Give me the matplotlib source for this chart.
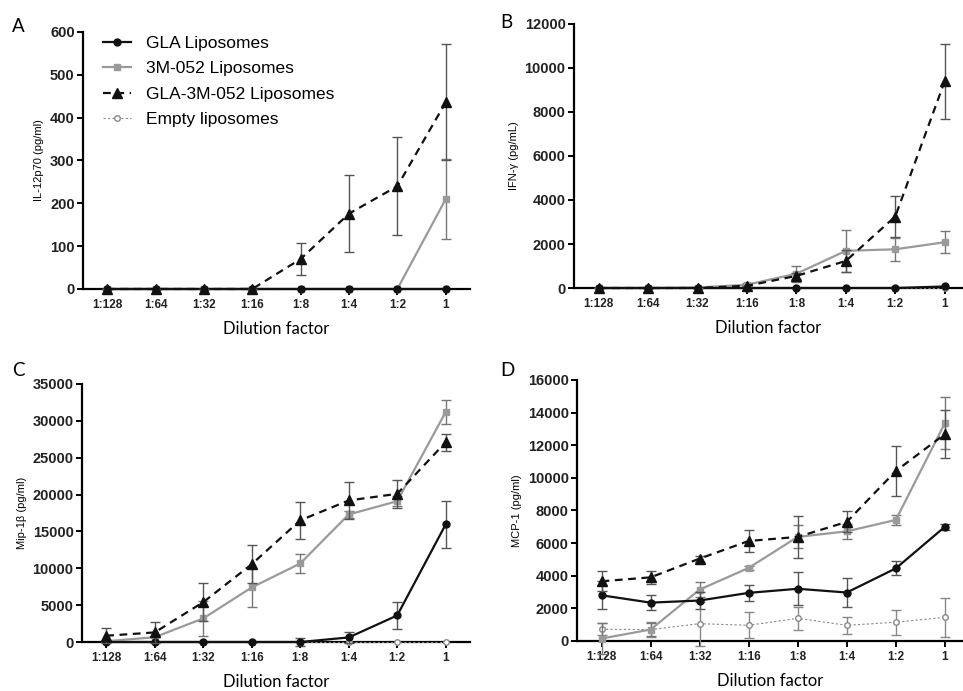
import matplotlib
matplotlib.use("Agg")
from matplotlib import pyplot as plt
from matplotlib.lines import Line2D
import numpy as np

# Dilution steps (x axis)
dilutions = ["1:128", "1:64", "1:32", "1:16", "1:8", "1:4", "1:2", "1"]
series_names = ["GLA Liposomes", "3M-052 Liposomes", "GLA-3M-052 Liposomes", "Empty liposomes"]

# Panel A: IL-12p70 (pg/ml)
il12_gla = [0, 0, 0, 0, 0, 0, 0, 0]
il12_3m = [0, 0, 0, 0, 0, 0, 0, 210]
il12_3m_err = [0, 0, 0, 0, 0, 0, 0, 93]
il12_combo = [0, 0, 0, 0, 70, 176, 240, 436]
il12_combo_err = [0, 0, 0, 0, 37, 90, 115, 136]
il12_empty = [0, 0, 0, 0, 0, 0, 0, 0]

# Panel B: IFN-gamma (pg/mL)
ifn_gla = [0, 0, 0, 0, 0, 0, 0, 70]
ifn_3m = [0, 0, 20, 150, 650, 1690, 1760, 2080]
ifn_3m_err = [0, 0, 0, 60, 370, 950, 530, 500]
ifn_combo = [0, 0, 0, 100, 550, 1230, 3250, 9400]
ifn_combo_err = [0, 0, 0, 0, 150, 500, 950, 1700]
ifn_empty = [0, 0, 0, 0, 0, 0, 0, 0]

# Panel C: Mip-1beta (pg/ml)
mip_gla = [0, 0, 0, 0, 0, 620, 3600, 15950]
mip_gla_err = [0, 0, 0, 0, 500, 700, 1850, 3150]
mip_3m = [100, 650, 3200, 7400, 10650, 17300, 19100, 31200]
mip_3m_err = [0, 0, 2350, 2650, 1350, 500, 650, 1650]
mip_combo = [850, 1300, 5400, 10550, 16500, 19200, 20100, 27100]
mip_combo_err = [1000, 1400, 2600, 2550, 2550, 2500, 1900, 1150]
mip_empty = [0, 0, 0, 0, 0, 0, 0, 0]

# Panel D: MCP-1 (pg/ml)
mcp_gla = [2800, 2350, 2480, 2950, 3200, 2970, 4450, 7000]
mcp_gla_err = [850, 440, 550, 500, 1000, 900, 430, 200]
mcp_3m = [150, 700, 3150, 4480, 6380, 6720, 7420, 13350]
mcp_3m_err = [950, 400, 480, 120, 700, 450, 300, 1600]
mcp_combo = [3660, 3900, 5050, 6130, 6380, 7300, 10420, 12680]
mcp_combo_err = [600, 400, 180, 680, 1300, 650, 1550, 1450]
mcp_empty = [720, 700, 1060, 960, 1390, 960, 1150, 1450]
mcp_empty_err = [380, 450, 1350, 800, 700, 520, 760, 1180]

# letter, y label, series, errors, ymax, ystep, axes rect, x right limit, letter position (px)
panels = [
    ("A", "IL-12p70 (pg/ml)", [il12_gla, il12_3m, il12_combo, il12_empty],
     [None, il12_3m_err, il12_combo_err, None], 600, 100,
     [0.0862, 0.5818, 0.4018, 0.3719], 7.5, (12, 26)),
    ("B", "IFN-\u03b3 (pg/mL)", [ifn_gla, ifn_3m, ifn_combo, ifn_empty],
     [None, ifn_3m_err, ifn_combo_err, None], 12000, 2000,
     [0.5960, 0.5832, 0.4040, 0.3821], 7.37, (500, 23)),
    ("C", "Mip-1\u03b2 (pg/ml)", [mip_gla, mip_3m, mip_combo, mip_empty],
     [mip_gla_err, mip_3m_err, mip_combo_err, None], 35000, 5000,
     [0.0851, 0.0709, 0.4029, 0.3734], 7.5, (12, 371)),
    ("D", "MCP-1 (pg/ml)", [mcp_gla, mcp_3m, mcp_combo, mcp_empty],
     [mcp_gla_err, mcp_3m_err, mcp_combo_err, mcp_empty_err], 16000, 2000,
     [0.5992, 0.0724, 0.4008, 0.3777], 7.37, (500, 371)),
]

# line styles per series
styles = [
    dict(color="#111111", ls="-", marker="o", mfc="#111111", lw=1.6, ms=5, ecolor="#555555", z=5.5),
    dict(color="#9a9a9a", ls="-", marker="s", mfc="#9a9a9a", lw=1.6, ms=5, ecolor="#777777", z=5),
    dict(color="#111111", ls=(0, (3.5, 2.5)), marker="^", mfc="#111111", lw=1.6, ms=6.5, ecolor="#555555", z=6),
    dict(color="#888888", ls=(0, (2, 2)), marker="o", mfc="white", lw=0.8, ms=4, ecolor="#888888", z=3),
]

W, H = 963, 691
fig = plt.figure(figsize=(W / 100, H / 100), dpi=100)
xpos = np.arange(len(dilutions))

for letter, ylab, values, errs, ymax, ystep, rect, xright, lpos in panels:
    ax = fig.add_axes(rect)
    for i in range(4):
        st = styles[i]
        ax.errorbar(xpos, values[i], yerr=errs[i], color=st["color"], ls=st["ls"],
                    marker=st["marker"], mfc=st["mfc"], mec=st["color"], lw=st["lw"],
                    ms=st["ms"], ecolor=st["ecolor"], elinewidth=1.0, capsize=3.5,
                    capthick=1.0, clip_on=False, zorder=st["z"])
    ax.set_xlim(-0.5, xright)
    ax.set_ylim(0, ymax)
    ax.set_yticks(np.arange(0, ymax + 1, ystep))
    ax.set_xticks(xpos)
    ax.set_xticklabels(dilutions)
    for s in ["top", "right"]:
        ax.spines[s].set_visible(False)
    for s in ["left", "bottom"]:
        ax.spines[s].set_linewidth(1.6)
    ax.tick_params(axis="both", width=1.4, length=4, direction="out")
    ax.tick_params(axis="y", labelsize=10.5, pad=2)
    ax.tick_params(axis="x", labelsize=8.5)
    for lab in ax.get_xticklabels() + ax.get_yticklabels():
        lab.set_fontweight("bold")
        lab.set_family("Liberation Sans")
        lab.set_color("#222222")
    ax.set_ylabel(ylab, fontsize=8, family="Liberation Sans", labelpad=4)
    ax.set_xlabel("Dilution factor", fontsize=12, family="Lato", labelpad=7)
    fig.text(lpos[0] / W, 1 - lpos[1] / H, letter, fontsize=13.5, family="Lato",
             ha="left", va="center")

    if letter == "A":
        handles = []
        for st in styles:
            handles.append(Line2D([], [], color=st["color"], ls=st["ls"], marker=st["marker"],
                                  mfc=st["mfc"], mec=st["color"], lw=st["lw"], ms=st["ms"]))
        ax.legend(handles, series_names, loc="upper left",
                  bbox_to_anchor=(0.01, 1.045), frameon=False, handlelength=1.65,
                  prop={"family": "Liberation Sans", "size": 12.5}, labelspacing=0.58,
                  handletextpad=0.85)

fig.savefig("out.png", dpi=100)
